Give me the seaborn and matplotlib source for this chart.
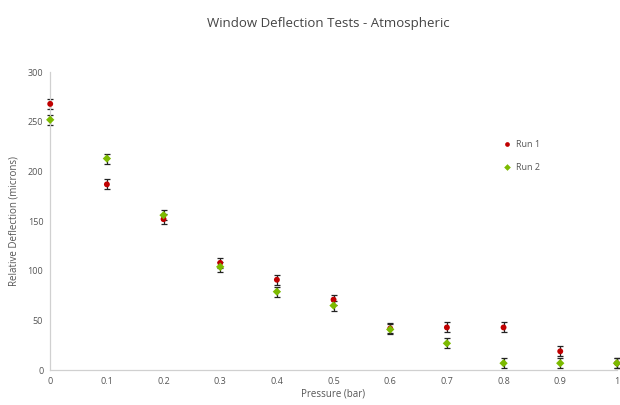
import numpy as np
import pandas as pd
import matplotlib
matplotlib.use("Agg")
import matplotlib.pyplot as plt
import seaborn as sns

# -- Data -----------------------------------------------------------------------
pressure = [0.0, 0.1, 0.2, 0.3, 0.4, 0.5, 0.6, 0.7, 0.8, 0.9, 1.0]
run1 = [268, 187, 152, 108, 91, 71, 42, 43, 43, 19, 7]
run2 = [252, 213, 156, 104, 79, 65, 41, 27, 7, 7, 7]
err = 5

C_RED = "#c00000"
C_GREEN = "#7cba00"

sns.set_style("white")
plt.rcParams["font.family"] = ["Open Sans", "DejaVu Sans"]

df = pd.concat([
    pd.DataFrame({"pressure": pressure, "deflection": run1, "run": "Run 1"}),
    pd.DataFrame({"pressure": pressure, "deflection": run2, "run": "Run 2"}),
])

fig = plt.figure(figsize=(6.2, 4.05), dpi=100)
ax = fig.add_axes([0.081, 0.086, 0.914, 0.736])

for name in ["Run 1", "Run 2"]:
    sub = df[df["run"] == name]
    ax.errorbar(sub["pressure"], sub["deflection"], yerr=err, fmt="none",
                ecolor="#222222", elinewidth=0.9, capsize=2.5, capthick=0.9,
                zorder=2, clip_on=False)

sns.scatterplot(data=df, x="pressure", y="deflection", hue="run",
                palette={"Run 1": C_RED, "Run 2": C_GREEN},
                style="run", markers={"Run 1": "o", "Run 2": "D"},
                s=18, edgecolor="none", ax=ax, zorder=3, clip_on=False)

ax.set_xlim(0, 1)
ax.set_ylim(0, 300)
ax.set_xticks(np.arange(0, 1.01, 0.1))
ax.set_xticklabels(["0", "0.1", "0.2", "0.3", "0.4", "0.5", "0.6", "0.7", "0.8", "0.9", "1"])
ax.set_yticks(range(0, 301, 50))
ax.tick_params(labelsize=6.5, colors="#555555", length=0, pad=5)

for side in ["top", "right"]:
    ax.spines[side].set_visible(False)
for side in ["left", "bottom"]:
    ax.spines[side].set_color("#d0d0d0")
    ax.spines[side].set_linewidth(0.9)

ax.set_xlabel("Pressure (bar)", fontsize=7, color="#555555", labelpad=2)
ax.set_ylabel("Relative Deflection (microns)", fontsize=7, color="#555555", labelpad=6)
fig.suptitle("Window Deflection Tests - Atmospheric", x=0.53, y=0.958,
             fontsize=9.5, color="#444444")

leg = ax.legend(loc="upper left", bbox_to_anchor=(0.775, 0.80), frameon=False,
                fontsize=6.5, handletextpad=0.1, labelspacing=1.6, markerscale=0.8)
for t in leg.get_texts():
    t.set_color("#555555")

fig.savefig("out.png", dpi=100)
